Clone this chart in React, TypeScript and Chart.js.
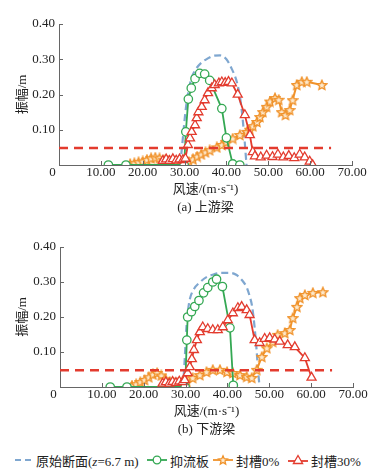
import React, { useEffect, useRef } from 'react';
import { Chart, registerables } from 'chart.js';
Chart.register(...registerables);

// ---------- data ----------
// panel (a) 上游梁
const blueA_x = [28.9, 29.3, 29.7, 30.2, 30.8, 31.6, 32.6, 34.0, 35.5, 37.0, 38.5, 40.0, 41.3, 42.5, 43.4, 44.2, 44.8];
const blueA_y = [0, 0.04, 0.09, 0.15, 0.2, 0.245, 0.27, 0.29, 0.302, 0.31, 0.311, 0.3, 0.272, 0.235, 0.18, 0.09, 0];

const greenA_x = [11.8, 16.0, 29.9, 30.3, 30.9, 31.6, 32.5, 33.6, 34.8, 36.0, 38.9, 40.0, 41.5, 43.2];
const greenA_y = [0, 0, 0, 0.094, 0.187, 0.218, 0.245, 0.26, 0.258, 0.24, 0.16, 0.077, 0.003, 0];

const orangeA_x = [17, 18, 19, 20, 21, 22, 23, 24, 25, 26, 27, 28, 29, 30, 31, 32, 33, 34, 35, 36, 37.7, 38.9, 40, 41.5, 43.2, 44.9, 45.6, 46.3, 47.3, 48, 48.7, 49.6, 50.4, 51.6, 52.5, 53.2, 54.1, 55.1, 55.8, 56.8, 58, 59.2, 62.8];
const orangeA_y = [0.003, 0.005, 0.008, 0.01, 0.015, 0.019, 0.021, 0.019, 0.014, 0.012, 0.01, 0.009, 0.007, 0.005, 0.008, 0.016, 0.024, 0.03, 0.036, 0.042, 0.05, 0.057, 0.065, 0.075, 0.085, 0.094, 0.1, 0.11, 0.122, 0.136, 0.15, 0.165, 0.18, 0.19, 0.185, 0.15, 0.142, 0.156, 0.184, 0.227, 0.236, 0.236, 0.227];

const redA_x = [24.8, 25.6, 26.4, 27.2, 28.0, 28.8, 29.6, 30.2, 30.8, 31.3, 31.7, 32.5, 32.9, 33.3, 34.1, 34.8, 35.6, 36.5, 37.2, 38.2, 38.9, 39.7, 40.5, 41.3, 42.7, 44.4, 45.6, 46.3, 46.8, 48.2, 49.6, 51.0, 52.3, 53.6, 54.9, 56.2, 57.5, 58.7, 59.9, 60.6];
const redA_y = [0.012, 0.016, 0.012, 0.017, 0.013, 0.016, 0.014, 0.018, 0.057, 0.076, 0.094, 0.113, 0.133, 0.15, 0.165, 0.184, 0.204, 0.218, 0.227, 0.232, 0.235, 0.233, 0.236, 0.232, 0.2, 0.142, 0.085, 0.037, 0.025, 0.022, 0.027, 0.023, 0.03, 0.022, 0.026, 0.02, 0.03, 0.022, 0.01, 0];

// panel (b) 下游梁
const blueB_x = [29.4, 29.8, 30.2, 30.6, 31.0, 32.0, 33.5, 35.0, 36.8, 38.5, 40.5, 42.2, 43.5, 44.6, 45.3, 45.9, 46.5, 47.0, 47.3, 47.6];
const blueB_y = [0, 0.08, 0.17, 0.22, 0.25, 0.28, 0.3, 0.314, 0.322, 0.326, 0.326, 0.32, 0.305, 0.285, 0.26, 0.23, 0.17, 0.1, 0.05, 0.01];

const greenB_x = [12.0, 16.0, 29.9, 30.3, 30.5, 31.4, 32.2, 33.2, 34.3, 35.3, 36.5, 37.4, 38.8, 40.6, 41.4];
const greenB_y = [0, 0, 0, 0.134, 0.2, 0.215, 0.23, 0.247, 0.269, 0.284, 0.3, 0.308, 0.287, 0.169, 0.005];

const orangeB_x = [17.2, 18.2, 19.2, 20.2, 21.2, 22.2, 23.2, 24.2, 25.2, 26.2, 27.2, 28.2, 29.2, 30.3, 31.7, 33.4, 35.0, 36.5, 38.2, 39.9, 41.3, 43.0, 44.6, 45.8, 47.0, 48.2, 49.4, 50.8, 52.0, 53.7, 54.9, 55.6, 56.6, 57.3, 58.5, 60.4, 62.8];
const orangeB_y = [0.004, 0.008, 0.014, 0.02, 0.028, 0.036, 0.04, 0.033, 0.022, 0.015, 0.012, 0.012, 0.013, 0.014, 0.026, 0.034, 0.043, 0.049, 0.049, 0.043, 0.04, 0.034, 0.029, 0.026, 0.049, 0.086, 0.111, 0.129, 0.149, 0.154, 0.163, 0.197, 0.229, 0.254, 0.263, 0.269, 0.271];

const redB_x = [24.5, 25.3, 26.1, 26.9, 27.7, 28.5, 29.3, 29.8, 30.5, 31.0, 31.5, 32.0, 32.7, 33.4, 34.1, 35.3, 36.5, 37.7, 38.9, 40.1, 41.3, 42.5, 43.4, 44.6, 45.3, 46.5, 47.7, 48.9, 50.1, 51.3, 52.5, 54.4, 56.1, 58.5, 60.1];
const redB_y = [0.01, 0.014, 0.01, 0.015, 0.012, 0.016, 0.014, 0.02, 0.04, 0.057, 0.08, 0.106, 0.134, 0.157, 0.171, 0.166, 0.163, 0.163, 0.171, 0.191, 0.211, 0.226, 0.229, 0.22, 0.206, 0.134, 0.126, 0.138, 0.14, 0.136, 0.13, 0.12, 0.114, 0.083, 0.027];

// threshold line
const limit_x = [0, 65];
const limit_y = [0.048, 0.048];

// axes
const X_MIN = 0, X_MAX = 70, X_STEP = 10;
const Y_MIN = 0, Y_MAX = 0.4, Y_STEP = 0.1;

const SERIES_NAMES = ['原始断面', '抑流板', '封槽0%', '封槽30%'];
const X_TITLE = '风速/(m·s⁻¹)';
const Y_TITLE = '振幅/m';
const PANEL_A = '(a) 上游梁';
const PANEL_B = '(b) 下游梁';

// ---------- styles ----------
const FONT = "'Liberation Serif', 'Noto Sans CJK SC', serif";
const BLUE = '#7fa7d0';
const GREEN = '#34a853';
const ORANGE = '#f0922a';
const STAR_FILL = '#fde9cc';
const RED = '#e33b2e';
const AXIS = '#666666';
const TEXT = '#222222';

const xy = (xs: number[], ys: number[]) => xs.map((x, i) => ({ x, y: ys[i] }));

function makeStar(size: number) {
  const c = document.createElement('canvas');
  c.width = size;
  c.height = size;
  const g = c.getContext('2d')!;
  const cx = size / 2, cy = size / 2 + 0.4, R = size / 2 - 1, r = R * 0.47;
  g.beginPath();
  for (let i = 0; i < 10; i++) {
    const rad = i % 2 ? r : R;
    const a = -Math.PI / 2 + (i * Math.PI) / 5;
    const px = cx + rad * Math.cos(a), py = cy + rad * Math.sin(a);
    if (i === 0) g.moveTo(px, py); else g.lineTo(px, py);
  }
  g.closePath();
  g.fillStyle = STAR_FILL;
  g.fill();
  g.lineWidth = 1.4;
  g.strokeStyle = ORANGE;
  g.stroke();
  return c;
}

const innerTicks = {
  id: 'innerTicks',
  afterDraw(chart: any) {
    const { ctx, chartArea } = chart;
    const xs = chart.scales.x, ys = chart.scales.y;
    ctx.save();
    ctx.strokeStyle = AXIS;
    ctx.lineWidth = 1;
    ctx.beginPath();
    xs.ticks.forEach((t: any) => {
      const p = Math.round(xs.getPixelForValue(t.value)) + 0.5;
      ctx.moveTo(p, chartArea.bottom);
      ctx.lineTo(p, chartArea.bottom - 4);
    });
    ys.ticks.forEach((t: any) => {
      const p = Math.round(ys.getPixelForValue(t.value)) + 0.5;
      ctx.moveTo(chartArea.left, p);
      ctx.lineTo(chartArea.left + 4, p);
    });
    ctx.stroke();
    ctx.restore();
  },
};

type Panel = {
  blue: [number[], number[]];
  green: [number[], number[]];
  orange: [number[], number[]];
  red: [number[], number[]];
  label: string;
};

function ChartPanel({ panel, top, axisLeft, padTop, padRight }: { panel: Panel; top: number; axisLeft: number; padTop: number; padRight: number }) {
  const ref = useRef<HTMLCanvasElement>(null);
  useEffect(() => {
    const star = makeStar(12);
    const chart = new Chart(ref.current!, {
      type: 'line',
      data: {
        datasets: [
          { label: 'limit', data: xy(limit_x, limit_y), borderColor: RED, borderWidth: 2.5, borderDash: [9, 6], pointRadius: 0, fill: false },
          { label: SERIES_NAMES[3], data: xy(panel.red[0], panel.red[1]), borderColor: RED, borderWidth: 1.8, pointStyle: 'triangle', pointRadius: 5.2, pointBackgroundColor: '#ffffff', pointBorderColor: RED, pointBorderWidth: 1.3 },
          { label: SERIES_NAMES[1], data: xy(panel.green[0], panel.green[1]), borderColor: GREEN, borderWidth: 1.8, pointStyle: 'circle', pointRadius: 4.2, pointBackgroundColor: '#ffffff', pointBorderColor: GREEN, pointBorderWidth: 1.3 },
          { label: SERIES_NAMES[2], data: xy(panel.orange[0], panel.orange[1]), borderColor: ORANGE, borderWidth: 2, pointStyle: star as any, pointRadius: 5 },
          { label: SERIES_NAMES[0], data: xy(panel.blue[0], panel.blue[1]), borderColor: BLUE, borderWidth: 2.2, borderDash: [7, 4], pointRadius: 0, cubicInterpolationMode: 'monotone', tension: 0.4 } as any,
        ],
      },
      options: {
        responsive: false,
        animation: false,
        layout: { padding: { top: padTop, right: padRight, left: 0, bottom: 0 } },
        plugins: { legend: { display: false }, tooltip: { enabled: false } },
        elements: { line: { tension: 0 } },
        scales: {
          x: {
            type: 'linear',
            min: X_MIN,
            max: X_MAX,
            afterFit: (s: any) => { s.height = 55; },
            grid: { display: false, drawTicks: false },
            border: { display: true, color: AXIS, width: 1 },
            ticks: {
              stepSize: X_STEP,
              padding: 0,
              color: TEXT,
              font: { family: FONT, size: 13 },
              maxRotation: 0,
              callback: (v: any) => (Math.abs(v) < 1e-9 ? '0    ' : Number(v).toFixed(2)),
            },
            title: {
              display: true,
              text: [X_TITLE, panel.label],
              color: TEXT,
              font: { family: FONT, size: 13, lineHeight: 18 / 13 },
              padding: { top: 0, bottom: 3 },
            },
          },
          y: {
            type: 'linear',
            min: Y_MIN,
            max: Y_MAX,
            afterFit: (s: any) => { s.width = axisLeft; },
            grid: { display: false, drawTicks: false },
            border: { display: true, color: AXIS, width: 1 },
            ticks: {
              stepSize: Y_STEP,
              padding: 4,
              color: TEXT,
              font: { family: FONT, size: 13 },
              callback: (v: any) => (Math.abs(v) < 1e-9 ? '' : Number(v).toFixed(2)),
            },
            title: {
              display: true,
              text: Y_TITLE,
              color: TEXT,
              font: { family: FONT, size: 13 },
              padding: { top: 15, bottom: 0 },
            },
          },
        },
      },
      plugins: [innerTicks],
    } as any);
    return () => chart.destroy();
  }, []);
  return <canvas ref={ref} width={388} height={220} style={{ position: 'absolute', left: 0, top, width: 388, height: 220 }} />;
}

function StarIcon() {
  const pts: string[] = [];
  for (let i = 0; i < 10; i++) {
    const rad = i % 2 ? 2.1 : 4.6;
    const a = -Math.PI / 2 + (i * Math.PI) / 5;
    pts.push(`${(10 + rad * Math.cos(a)).toFixed(2)},${(6.4 + rad * Math.sin(a)).toFixed(2)}`);
  }
  return (
    <svg width={20} height={12} style={{ display: 'block' }}>
      <line x1={0} y1={6} x2={20} y2={6} stroke={ORANGE} strokeWidth={1.8} />
      <polygon points={pts.join(' ')} fill={STAR_FILL} stroke={ORANGE} strokeWidth={1.3} />
    </svg>
  );
}

function Legend() {
  const item = (left: number) => ({ position: 'absolute', left, top: 0, height: 20, display: 'flex', alignItems: 'center' } as React.CSSProperties);
  const txt = { marginLeft: 3, whiteSpace: 'nowrap' } as React.CSSProperties;
  return (
    <div style={{ position: 'absolute', left: 0, top: 450, width: 388, height: 20, fontFamily: FONT, fontSize: 13, color: TEXT }}>
      <div style={item(15)}>
        <svg width={18} height={12} style={{ display: 'block' }}><line x1={0} y1={6} x2={18} y2={6} stroke={BLUE} strokeWidth={2} strokeDasharray="6 4" /></svg>
        <span style={txt}>{SERIES_NAMES[0]}(<i>z</i>=6.7 m)</span>
      </div>
      <div style={item(147)}>
        <svg width={20} height={12} style={{ display: 'block' }}><line x1={0} y1={6} x2={20} y2={6} stroke={GREEN} strokeWidth={1.8} /><circle cx={10} cy={6} r={3.8} fill="#fff" stroke={GREEN} strokeWidth={1.3} /></svg>
        <span style={txt}>{SERIES_NAMES[1]}</span>
      </div>
      <div style={item(213)}>
        <StarIcon />
        <span style={txt}>{SERIES_NAMES[2]}</span>
      </div>
      <div style={item(288)}>
        <svg width={20} height={12} style={{ display: 'block' }}><line x1={0} y1={7} x2={20} y2={7} stroke={RED} strokeWidth={1.8} /><polygon points="10,1.5 14.6,9.5 5.4,9.5" fill="#fff" stroke={RED} strokeWidth={1.3} /></svg>
        <span style={txt}>{SERIES_NAMES[3]}</span>
      </div>
    </div>
  );
}

const panelA: Panel = { blue: [blueA_x, blueA_y], green: [greenA_x, greenA_y], orange: [orangeA_x, orangeA_y], red: [redA_x, redA_y], label: PANEL_A };
const panelB: Panel = { blue: [blueB_x, blueB_y], green: [greenB_x, greenB_y], orange: [orangeB_x, orangeB_y], red: [redB_x, redB_y], label: PANEL_B };

export default function App() {
  return (
    <div style={{ position: 'absolute', left: 0, top: 0, width: 388, height: 475, background: '#ffffff', overflow: 'hidden' }}>
      <ChartPanel panel={panelA} top={0} axisLeft={59} padTop={24} padRight={36} />
      <ChartPanel panel={panelB} top={222} axisLeft={60} padTop={25} padRight={35} />
      <Legend />
    </div>
  );
}
